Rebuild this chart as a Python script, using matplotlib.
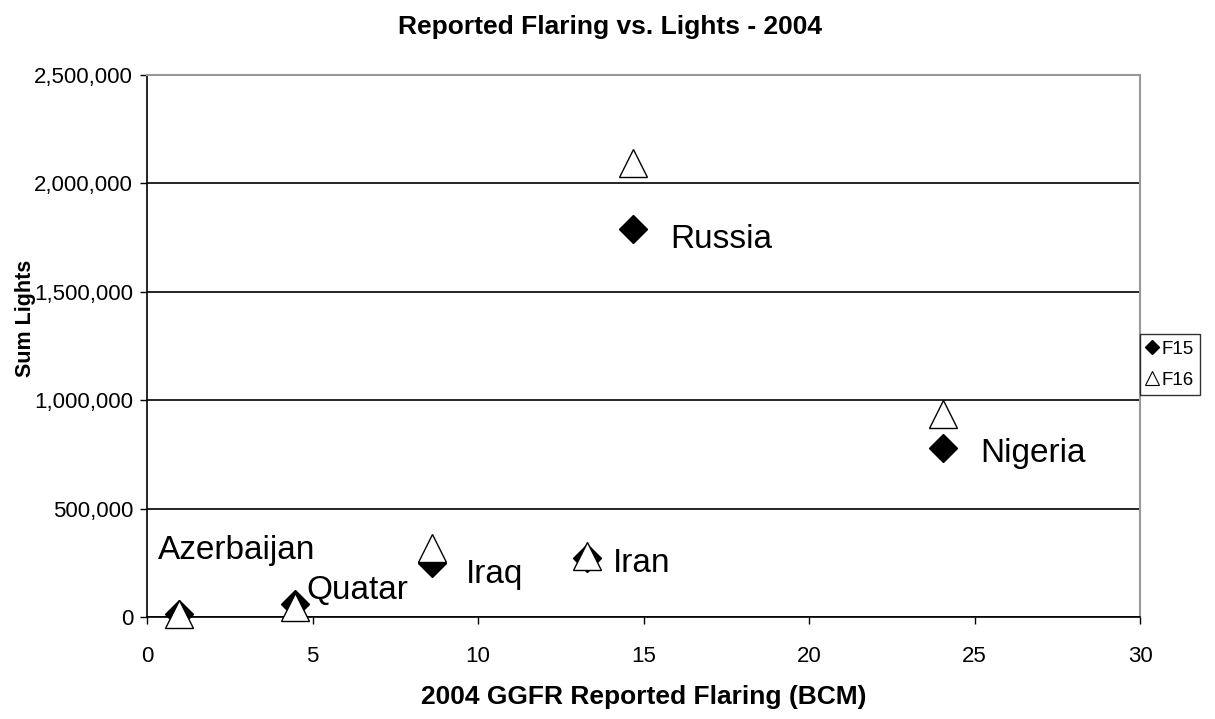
import matplotlib.pyplot as plt
from matplotlib.lines import Line2D
from matplotlib.ticker import FuncFormatter

plt.rcParams['font.family'] = ['Liberation Sans', 'DejaVu Sans']

# data
countries = ['Azerbaijan', 'Quatar', 'Iraq', 'Iran', 'Russia', 'Nigeria']
flaring = [0.98, 4.46, 8.60, 13.28, 14.68, 24.05]
f15 = [16000, 62000, 250000, 272000, 1790000, 780000]
f16 = [13000, 46000, 318000, 282000, 2094000, 936000]

# label offsets from the F15 marker, in pixels
label_off = {'Azerbaijan': (-22, 55), 'Quatar': (12, 5), 'Iraq': (34, -20),
             'Iran': (26, -14), 'Russia': (37, -19), 'Nigeria': (37, -14)}

fig = plt.figure(figsize=(12.15, 7.19), dpi=100)
ax = fig.add_axes([147/1215, 102/719, 993/1215, 542/719])

ax.plot(flaring, f15, linestyle='none', marker='D', markersize=14,
        color='black', zorder=3, clip_on=False)
ax.plot(flaring, f16, linestyle='none', marker='^', markersize=20,
        markerfacecolor='white', markeredgecolor='black', markeredgewidth=1,
        zorder=4, clip_on=False)

for name, x, y in zip(countries, flaring, f15):
    ax.annotate(name, (x, y), xytext=label_off[name], textcoords='offset pixels',
                fontsize=24, ha='left', va='baseline', zorder=5)

ax.set_xlim(0, 30)
ax.set_ylim(0, 2500000)
ax.set_xticks(range(0, 31, 5))
ax.set_yticks(range(0, 2500001, 500000))
ax.yaxis.set_major_formatter(FuncFormatter(lambda v, p: f'{v:,.0f}'))
ax.tick_params(labelsize=16, length=5, width=1, color='black', pad=5)
ax.tick_params(axis='x', pad=16)

ax.set_axisbelow(True)
ax.yaxis.grid(True, color='black', linewidth=1.2)
for s in ['left', 'bottom']:
    ax.spines[s].set_color('black')
    ax.spines[s].set_linewidth(1.2)
for s in ['top', 'right']:
    ax.spines[s].set_color('#999999')
    ax.spines[s].set_linewidth(1.5)

fig.text(610/1215, 1 - 27/719, 'Reported Flaring vs. Lights - 2004',
         fontsize=19, fontweight='bold', ha='center', va='center')
fig.text(644/1215, 1 - 697/719, '2004 GGFR Reported Flaring (BCM)',
         fontsize=19, fontweight='bold', ha='center', va='center')
fig.text(25/1215, 1 - 318/719, 'Sum Lights', fontsize=15.5, fontweight='bold',
         rotation=90, ha='center', va='center')

handles = [Line2D([], [], linestyle='none', marker='D', markersize=7, color='black'),
           Line2D([], [], linestyle='none', marker='^', markersize=10,
                  markerfacecolor='white', markeredgecolor='black', markeredgewidth=0.8)]
leg = fig.legend(handles, ['F15', 'F16'], loc='upper left',
                 bbox_to_anchor=(1140/1215, 1 - 334/719), fontsize=13.5,
                 frameon=True, fancybox=False, handlelength=0.6,
                 handletextpad=0.2, borderpad=0.35, labelspacing=0.75,
                 borderaxespad=0)
leg.get_frame().set_edgecolor('black')
leg.get_frame().set_linewidth(1)

fig.savefig('out.png', dpi=100)
